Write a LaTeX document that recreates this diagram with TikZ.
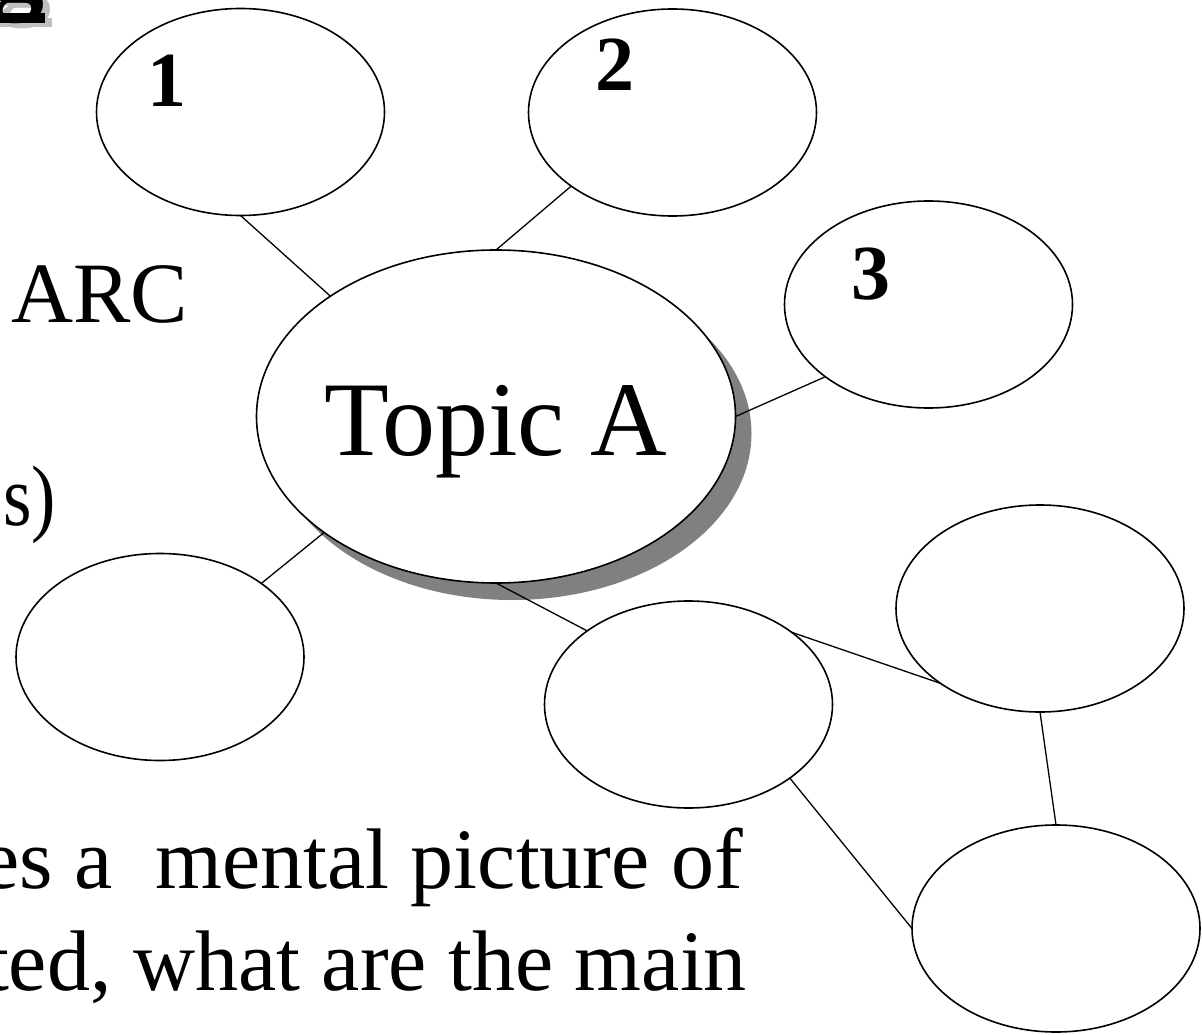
\documentclass[tikz,border=0pt]{standalone}
\usepackage{fontspec}
\setmainfont{Liberation Serif}
\usetikzlibrary{shapes.geometric}
\begin{document}
\begin{tikzpicture}[x=1pt,y=1pt,
  bubble/.style={ellipse, draw=black, line width=1.6pt, fill=white, inner sep=0pt, outer sep=0pt, minimum width=288pt, minimum height=207pt},
  bigbubble/.style={ellipse, inner sep=0pt, outer sep=0pt, minimum width=479pt, minimum height=333pt},
  link/.style={draw=black, line width=1.3pt},
  num/.style={font=\fontsize{78}{80}\selectfont\bfseries, inner sep=0pt, anchor=base},
  bigtxt/.style={font=\fontsize{86}{100}\selectfont, inner sep=0pt},
  titletxt/.style={font=\fontsize{110}{112}\selectfont\bfseries, inner sep=0pt, anchor=base east}]
\useasboundingbox (0,0) rectangle (1202,-1035);
\clip (0,0) rectangle (1202,-1035);
% clipped title fragment with shadow
\node[titletxt, text=black!25] (gshadow) at (51.5,-4.5) {g};
\fill[black!25] (0,-18) rectangle (51.5,-27.2);
\node[titletxt, text=black] (gtitle) at (45,0) {g};
\fill[black] (0,-13.3) rectangle (45,-22.7);
% left text fragments
\node[bigtxt, anchor=base west] (arc) at (11,-322) {ARC};
\node[bigtxt, anchor=base east, xscale=0.85] (paren) at (56,-525) {s)};
\node[bigtxt, anchor=base east] (line1) at (743,-888) {es a\ \ mental picture of};
\node[bigtxt, anchor=base east] (line2) at (747,-990) {ted, what are the main};
% central topic with shadow
\node[bigbubble, fill=black!50] (tshadow) at (512,-433.5) {};
\node[bigbubble, draw=black, line width=1.6pt, fill=white] (topic) at (496,-416.5) {};
\node[font=\fontsize{106}{110}\selectfont, inner sep=0pt, anchor=base] (tlabel) at (496,-455) {Topic A};
% satellite ellipses
\node[bubble] (e1) at (240.5,-112) {};
\node[bubble] (e2) at (672.5,-112.5) {};
\node[bubble] (e3) at (928.5,-304.5) {};
\node[bubble] (e4) at (160,-657) {};
\node[bubble] (e5) at (688.5,-704.5) {};
\node[bubble] (e6) at (1040,-608.5) {};
\node[bubble] (e7) at (1056,-928.5) {};
\node[num] (n1) at (167,-107) {1};
\node[num] (n2) at (614.5,-91) {2};
\node[num] (n3) at (870.5,-299) {3};
% connectors
\draw[link] (e1.south) -- (topic.144.9);
\draw[link] (e2.216.5) -- (topic.north);
\draw[link] (e3.215.75) -- (topic.east);
\draw[link] (e4.36) -- (topic.214.9);
\draw[link] (topic.south) -- (e5.144.6);
\draw[link] (e5.35.6) -- (e6.217);
\draw[link] (e6.south) -- (e7.north);
\draw[link] (e5.324.4) -- (e7.west);
\end{tikzpicture}
\end{document}
